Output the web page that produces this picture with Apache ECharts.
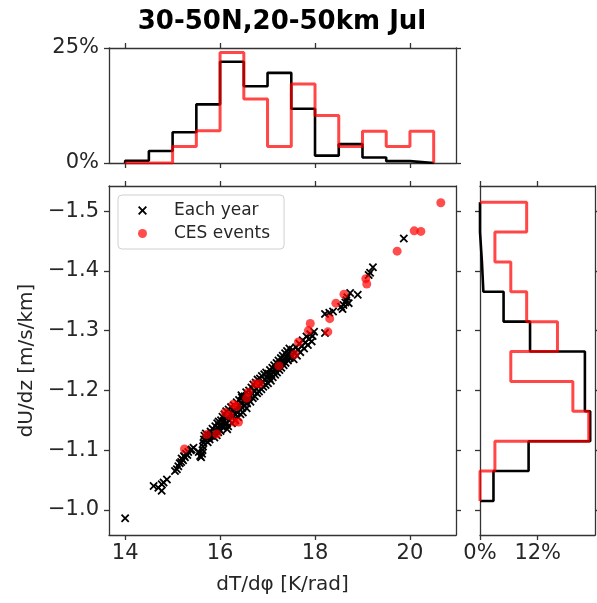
<!DOCTYPE html>
<html>
<head>
<meta charset="utf-8">
<script src="https://cdn.jsdelivr.net/npm/echarts@6/dist/echarts.min.js"></script>
<style>
html,body{margin:0;padding:0;background:#fff;}
#chart{width:597px;height:603px;}
</style>
</head>
<body>
<div id="chart"></div>
<script>
// ---- data ----
const titleText = '30-50N,20-50km Jul';
const xLabel = 'dT/d\u03c6 [K/rad]';
const yLabel = 'dU/dz [m/s/km]';
const xTicks = [14, 16, 18, 20];
const yTicks = [-1.5, -1.4, -1.3, -1.2, -1.1, -1.0];
const topHistTicks = [0, 25];
const rightHistTicks = [0, 12];

const eachYear = [
[14.00,-0.986],
[14.60,-1.040],[14.70,-1.037],[14.77,-1.032],[14.81,-1.046],[14.88,-1.051],[14.77,-1.043],
[15.05,-1.065],[15.09,-1.068],[15.12,-1.073],[15.15,-1.078],[15.18,-1.080],[15.19,-1.086],[15.22,-1.083],[15.24,-1.090],[15.26,-1.088],[15.28,-1.094],[15.31,-1.092],[15.33,-1.097],[15.38,-1.100],[15.40,-1.101],[15.44,-1.104],
[15.55,-1.097],[15.58,-1.090],[15.60,-1.088],[15.62,-1.094],[15.63,-1.100],[15.64,-1.106],[15.65,-1.112],[15.66,-1.118],[15.67,-1.124],[15.70,-1.128],[15.72,-1.120],[15.74,-1.113],[15.76,-1.125],[15.78,-1.118],[15.80,-1.131],[15.82,-1.124],[15.84,-1.136],[15.86,-1.128],[15.88,-1.121],[15.90,-1.140],[15.91,-1.132],[15.93,-1.125],[15.94,-1.145],[15.95,-1.137],[15.96,-1.130],[15.97,-1.148],[15.98,-1.141],[15.99,-1.134],
[16.01,-1.132],[16.02,-1.150],[16.03,-1.141],[16.05,-1.156],[16.06,-1.138],[16.08,-1.148],[16.09,-1.160],[16.10,-1.143],[16.12,-1.153],[16.13,-1.165],[16.14,-1.146],[16.16,-1.157],[16.17,-1.140],[16.18,-1.168],[16.20,-1.150],[16.21,-1.161],[16.23,-1.172],[16.24,-1.155],[16.25,-1.145],[16.27,-1.166],[16.28,-1.158],[16.29,-1.175],[16.31,-1.161],[16.32,-1.150],[16.34,-1.170],[16.35,-1.180],[16.36,-1.163],[16.38,-1.155],[16.39,-1.174],[16.40,-1.184],[16.42,-1.168],[16.43,-1.160],[16.44,-1.178],[16.46,-1.188],[16.47,-1.171],[16.48,-1.163],[16.49,-1.182],[16.15,-1.135],[16.45,-1.192],
[16.51,-1.175],[16.52,-1.190],[16.54,-1.183],[16.55,-1.197],[16.56,-1.170],[16.57,-1.178],[16.58,-1.192],[16.60,-1.185],[16.61,-1.200],[16.63,-1.190],[16.64,-1.181],[16.66,-1.205],[16.67,-1.195],[16.69,-1.187],[16.70,-1.210],[16.72,-1.198],[16.73,-1.190],[16.75,-1.213],[16.76,-1.203],[16.78,-1.195],[16.79,-1.218],[16.81,-1.207],[16.82,-1.198],[16.84,-1.220],[16.85,-1.211],[16.87,-1.202],[16.88,-1.224],[16.90,-1.214],[16.91,-1.206],[16.93,-1.227],[16.94,-1.218],[16.96,-1.209],[16.97,-1.230],[16.99,-1.221],
[17.01,-1.212],[17.02,-1.228],[17.04,-1.220],[17.05,-1.234],[17.07,-1.216],[17.08,-1.226],[17.10,-1.238],[17.11,-1.222],[17.13,-1.231],[17.14,-1.242],[17.16,-1.226],[17.17,-1.236],[17.19,-1.246],[17.20,-1.230],[17.22,-1.240],[17.23,-1.250],[17.25,-1.234],[17.26,-1.244],[17.28,-1.254],[17.29,-1.238],[17.31,-1.248],[17.32,-1.258],[17.34,-1.242],[17.35,-1.252],[17.37,-1.262],[17.38,-1.246],[17.40,-1.256],[17.41,-1.266],[17.43,-1.250],[17.44,-1.260],[17.46,-1.270],[17.47,-1.254],[17.49,-1.264],
[17.51,-1.258],[17.53,-1.268],[17.55,-1.252],[17.57,-1.263],[17.60,-1.272],[17.62,-1.258],[17.64,-1.268],[17.67,-1.278],[17.69,-1.264],[17.72,-1.274],[17.74,-1.284],[17.77,-1.270],[17.80,-1.280],[17.82,-1.290],[17.85,-1.276],[17.87,-1.286],[17.90,-1.294],[17.93,-1.282],[17.95,-1.291],[17.98,-1.298],
[18.21,-1.296],[18.21,-1.328],[18.30,-1.330],[18.38,-1.332],
[18.55,-1.340],[18.58,-1.336],[18.60,-1.343],[18.64,-1.347],[18.66,-1.351],[18.68,-1.356],[18.71,-1.346],[18.74,-1.363],[18.90,-1.360],
[19.13,-1.393],[19.16,-1.397],[19.22,-1.406],
[19.87,-1.454]
];

const cesEvents = [
[20.65,-1.514],[20.09,-1.467],[20.23,-1.466],[19.73,-1.433],[19.07,-1.387],[19.09,-1.378],
[18.61,-1.361],[18.44,-1.346],[18.31,-1.320],[17.90,-1.312],[17.86,-1.300],[18.27,-1.298],
[17.65,-1.281],[17.57,-1.260],[17.24,-1.241],[16.74,-1.211],[16.83,-1.211],[16.60,-1.197],
[16.56,-1.187],[16.28,-1.177],[16.35,-1.173],[16.11,-1.163],[16.20,-1.158],[16.30,-1.147],
[16.39,-1.147],[15.93,-1.127],[15.72,-1.126],[15.25,-1.102]
];

// top histogram (dT/dphi), percent per bin
const topBinEdges = [14.0,14.5,15.0,15.5,16.0,16.5,17.0,17.5,18.0,18.5,19.0,19.5,20.0,20.5];
const topHistEachYear = [0.5,2.6,6.7,12.75,22.0,16.7,19.6,11.8,1.6,4.1,1.2,0.4,0];
const topHistCES = [0,0,3.6,7.0,24.0,13.9,3.6,17.2,10.3,3.6,6.9,3.6,6.9];

// right histogram (dU/dz), percent per bin
const rightBinEdges = [-1.515,-1.465,-1.415,-1.365,-1.315,-1.265,-1.215,-1.165,-1.115,-1.065,-1.015];
const rightHistEachYear = [0,0.4,0.7,4.9,10.4,21.8,21.8,22.9,10.1,2.8];
const rightHistCES = [9.7,3.1,6.4,9.7,16.1,6.4,19.3,22.6,3.1,0];

// ---- build ----
function stepH(edges, vals){
  const p=[[edges[0],0]];
  for(let i=0;i<vals.length;i++){p.push([edges[i],vals[i]]);p.push([edges[i+1],vals[i]]);}
  p.push([edges[edges.length-1],0]);
  return p;
}
function stepV(edges, vals){
  const p=[[0,edges[0]]];
  for(let i=0;i<vals.length;i++){p.push([vals[i],edges[i]]);p.push([vals[i],edges[i+1]]);}
  p.push([0,edges[edges.length-1]]);
  return p;
}

const FONT = 'DejaVu Sans';
const frame = '#333';
const txt = '#262626';
const X_MIN = 13.66, X_MAX = 20.97;
const Y_MIN = -1.542, Y_MAX = -0.958;

function ax(o){
  const base = {
    type:'value', gridIndex:o.grid, position:o.pos, min:o.min, max:o.max, inverse:!!o.inverse,
    axisLine:{show:true,onZero:false,lineStyle:{color:frame,width:1.3}},
    axisTick:{show:true,inside:false,length:5,lineStyle:{color:frame,width:1.3},customValues:o.ticks},
    axisLabel:{show:!!o.label,customValues:o.ticks,color:txt,fontFamily:FONT,fontSize:21,margin:o.margin||8,formatter:o.fmt},
    splitLine:{show:false}
  };
  if(o.name){
    base.name=o.name; base.nameLocation='middle'; base.nameGap=o.nameGap;
    base.nameTextStyle={color:txt,fontFamily:FONT,fontSize:20};
  }
  return base;
}
const fmtY = v => (v<0?'\u2212':'') + Math.abs(v).toFixed(1);
const fmtPct = v => Math.round(v)+'%';

const xPath = 'path://M0,1.5L1.5,0L5,3.5L8.5,0L10,1.5L6.5,5L10,8.5L8.5,10L5,6.5L1.5,10L0,8.5L3.5,5Z';

const option = {
  animation:false,
  backgroundColor:'#fff',
  graphic:[{type:'text',x:282,y:22,style:{text:titleText,font:'bold 26px "DejaVu Sans"',fill:'#000',textAlign:'center',textVerticalAlign:'middle'}}],
  grid:[
    {left:109,top:186,width:347,height:349},
    {left:109,top:48,width:347,height:115},
    {left:480,top:186,width:115,height:349}
  ],
  xAxis:[
    ax({grid:0,pos:'bottom',min:X_MIN,max:X_MAX,ticks:xTicks,label:true,name:xLabel,nameGap:40}),
    ax({grid:0,pos:'top',min:X_MIN,max:X_MAX,ticks:xTicks}),
    ax({grid:1,pos:'bottom',min:X_MIN,max:X_MAX,ticks:xTicks}),
    ax({grid:1,pos:'top',min:X_MIN,max:X_MAX,ticks:xTicks}),
    ax({grid:2,pos:'bottom',min:0,max:23.9,ticks:rightHistTicks,label:true,fmt:fmtPct}),
    ax({grid:2,pos:'top',min:0,max:23.9,ticks:rightHistTicks})
  ],
  yAxis:[
    ax({grid:0,pos:'left',min:Y_MIN,max:Y_MAX,inverse:true,ticks:yTicks,label:true,fmt:fmtY,margin:10,name:yLabel,nameGap:72}),
    ax({grid:0,pos:'right',min:Y_MIN,max:Y_MAX,inverse:true,ticks:yTicks}),
    ax({grid:1,pos:'left',min:0,max:25,ticks:topHistTicks,label:true,fmt:fmtPct,margin:10}),
    ax({grid:1,pos:'right',min:0,max:25,ticks:topHistTicks}),
    ax({grid:2,pos:'left',min:Y_MIN,max:Y_MAX,inverse:true,ticks:yTicks}),
    ax({grid:2,pos:'right',min:Y_MIN,max:Y_MAX,inverse:true,ticks:yTicks})
  ],
  legend:{
    orient:'vertical', left:118, top:195, itemWidth:9, itemHeight:9, itemGap:6,
    padding:[7,14,7,20], borderColor:'#d0d0d0', borderWidth:1, borderRadius:4, backgroundColor:'#fff',
    textStyle:{color:txt,fontFamily:FONT,fontSize:17,padding:[0,0,0,22]},
    data:[{name:'Each year',icon:xPath},{name:'CES events',icon:'circle'}]
  },
  series:[
    {name:'Each year',type:'scatter',xAxisIndex:0,yAxisIndex:0,symbol:xPath,symbolSize:8.5,
     itemStyle:{color:'#000',opacity:1},data:eachYear,z:2},
    {name:'CES events',type:'scatter',xAxisIndex:0,yAxisIndex:0,symbol:'circle',symbolSize:9,
     itemStyle:{color:'rgba(255,0,0,0.87)'},data:cesEvents,z:3},
    {name:'topEach',type:'line',xAxisIndex:2,yAxisIndex:2,showSymbol:false,symbol:'none',
     lineStyle:{color:'#000',width:2.6},data:stepH(topBinEdges,topHistEachYear),z:2},
    {name:'topCES',type:'line',xAxisIndex:2,yAxisIndex:2,showSymbol:false,symbol:'none',
     lineStyle:{color:'rgba(255,0,0,0.72)',width:3},data:stepH(topBinEdges,topHistCES),z:3},
    {name:'rightEach',type:'line',xAxisIndex:4,yAxisIndex:4,showSymbol:false,symbol:'none',
     lineStyle:{color:'#000',width:2.6},data:stepV(rightBinEdges,rightHistEachYear),z:2},
    {name:'rightCES',type:'line',xAxisIndex:4,yAxisIndex:4,showSymbol:false,symbol:'none',
     lineStyle:{color:'rgba(255,0,0,0.72)',width:3},data:stepV(rightBinEdges,rightHistCES),z:3}
  ]
};
const chart = echarts.init(document.getElementById('chart'),null,{renderer:'canvas'});
chart.setOption(option);
</script>
</body>
</html>
